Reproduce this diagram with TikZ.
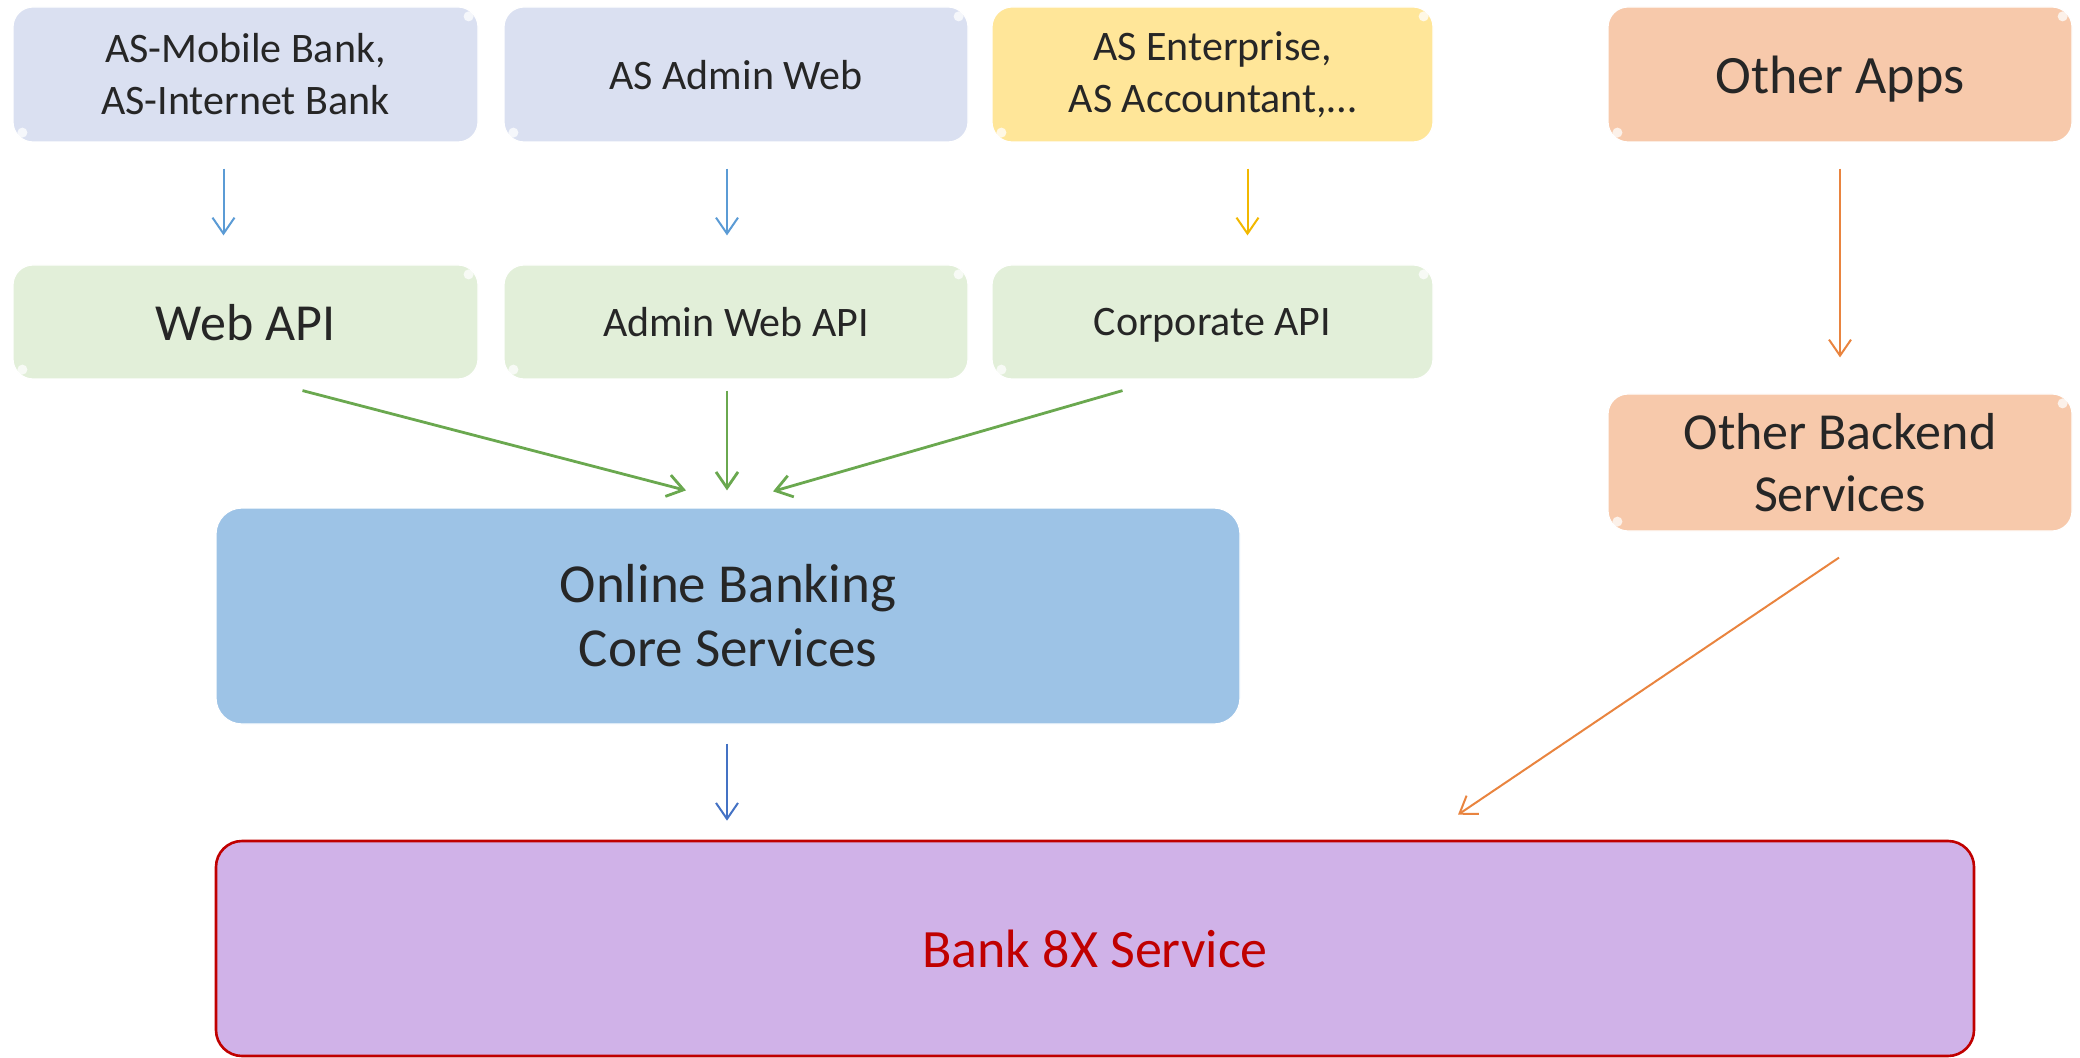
\documentclass[tikz,border=0pt]{standalone}
\usepackage{fontspec}
\setmainfont{Carlito}
\usetikzlibrary{arrows.meta}
\definecolor{txt}{HTML}{262626}
\definecolor{clientfill}{HTML}{DAE0F1}
\definecolor{corpfill}{HTML}{FFE699}
\definecolor{otherfill}{HTML}{F7C9AB}
\definecolor{apifill}{HTML}{E2EFD9}
\definecolor{corefill}{HTML}{9DC3E6}
\definecolor{bankfill}{HTML}{D0B2E8}
\definecolor{bankred}{HTML}{C00000}
\definecolor{arrblue}{HTML}{5B9BD5}
\definecolor{arryellow}{HTML}{F2B800}
\definecolor{arrorange}{HTML}{E9843F}
\definecolor{arrgreen}{HTML}{6AA84F}
\definecolor{arrdark}{HTML}{4472C4}
\begin{document}
\begin{tikzpicture}[x=0.5pt,y=-0.5pt,
  box/.style={rounded corners=10pt, inner sep=0pt, align=center, text=txt,
    font=\fontsize{21}{26}\selectfont, draw=white, line width=0.6pt},
  oneline/.style={text depth=0pt},
  toprow/.style={box, minimum height=67.5pt},
  apirow/.style={box, oneline, minimum height=57pt},
  glint/.style={white, opacity=0.75},
  conn/.style={line width=1pt, -{Straight Barb[length=8pt,width=11pt,line width=1pt]}},
  gconn/.style={arrgreen, line width=1.4pt, -{Straight Barb[length=8pt,width=11pt,line width=1.4pt]}}
]
\useasboundingbox (0,0) rectangle (2080,1058);

% top row
\node[toprow, fill=clientfill, minimum width=232.5pt] (c1) at (245.5,74.5) {AS-Mobile Bank,\\AS-Internet Bank};
\node[toprow, fill=clientfill, minimum width=232pt, oneline] (c2) at (736,74.5) {AS Admin Web};
\node[toprow, fill=corpfill, minimum width=220.5pt] (c3) at (1212.5,74.5) {AS Enterprise,\\AS Accountant,\dots};
\node[toprow, fill=otherfill, minimum width=232pt, oneline, font=\fontsize{27}{32}\selectfont] (oa) at (1840,74.5) {Other Apps};

% api row
\node[apirow, fill=apifill, minimum width=232.5pt, font=\fontsize{26}{31}\selectfont] (w1) at (245.5,322) {Web API};
\node[apirow, fill=apifill, minimum width=232pt] (w2) at (736,322) {Admin Web API};
\node[apirow, fill=apifill, minimum width=220.5pt] (w3) at (1212.5,322) {Corporate API};
\node[box, fill=otherfill, minimum width=232pt, minimum height=68.5pt, font=\fontsize{26}{31}\selectfont] (ob) at (1840,462.5) {Other Backend\\Services};

% core
\node[box, fill=corefill, rounded corners=13pt, minimum width=512pt, minimum height=108pt, font=\fontsize{27.5}{32}\selectfont] (core) at (728,616) {Online Banking\\Core Services};

% bank
\node[box, fill=bankfill, draw=bankred, line width=1.3pt, rounded corners=13pt, minimum width=879pt, minimum height=107.5pt, text=bankred, oneline, font=\fontsize{27}{32}\selectfont] (bank) at (1095,948.5) {Bank 8X Service};

% corner glints
\foreach \n in {c1,c2,c3,oa,w1,w2,w3,ob}{
  \fill[glint] ([xshift=-5pt,yshift=-5pt]\n.north east) circle (2.5pt);
  \fill[glint] ([xshift=5pt,yshift=5pt]\n.south west) circle (2.5pt);
}

% arrows top -> api
\draw[conn, arrblue] ([xshift=-11pt,yshift=-13pt]c1.south) -- ([xshift=-11pt,yshift=14.5pt]w1.north);
\draw[conn, arrblue] ([xshift=-4.5pt,yshift=-13pt]c2.south) -- ([xshift=-4.5pt,yshift=14.5pt]w2.north);
\draw[conn, arryellow] ([xshift=17.5pt,yshift=-13pt]c3.south) -- ([xshift=17.5pt,yshift=14.5pt]w3.north);
\draw[conn, arrorange] ([yshift=-13pt]oa.south) -- ([yshift=18pt]ob.north);

% api -> core
\draw[gconn] ([xshift=28.5pt,yshift=-5.5pt]w1.south) -- ([xshift=-21pt,yshift=8.5pt]core.north);
\draw[gconn] ([xshift=-4.5pt,yshift=-5.5pt]w2.south) -- ([xshift=-0.5pt,yshift=8.5pt]core.north);
\draw[gconn] ([xshift=-45pt,yshift=-5.5pt]w3.south) -- ([xshift=22.5pt,yshift=8pt]core.north);

% core -> bank, backend -> bank
\draw[conn, arrdark] ([xshift=-0.5pt,yshift=-9.5pt]core.south) -- ([xshift=-184pt,yshift=9.5pt]bank.north);
\draw[conn, arrorange] ([xshift=-0.5pt,yshift=-13pt]ob.south) -- ([xshift=181.5pt,yshift=12.5pt]bank.north);
\end{tikzpicture}
\end{document}
